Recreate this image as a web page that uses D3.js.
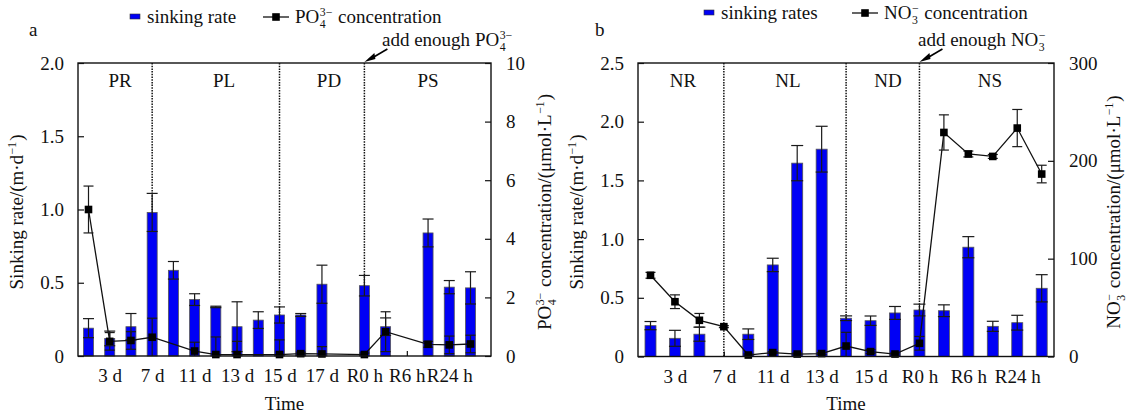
<!DOCTYPE html>
<html>
<head>
<meta charset="utf-8">
<script src="https://cdn.jsdelivr.net/npm/d3@7"></script>
<style>
  body { margin: 0; background: #fff; }
</style>
</head>
<body>
<svg id="chart" width="1129" height="417"></svg>
<script>

// panel a: PO4 experiment, 19 sampling slots
const A_LABELS = ["", "3 d", "", "7 d", "", "11 d", "", "13 d", "", "15 d", "", "17 d", "", "R0 h", "", "R6 h", "", "R24 h", ""];
const A_RATE = [0.19, 0.12, 0.20, 0.98, 0.585, 0.385, 0.335, 0.20, 0.245, 0.28, 0.28, 0.49, null, 0.48, 0.20, null, 0.84, 0.47, 0.465];
const A_RATE_ERR = [0.065, 0.05, 0.09, 0.13, 0.06, 0.04, 0.005, 0.17, 0.057, 0.055, 0.01, 0.13, null, 0.07, 0.06, null, 0.095, 0.045, 0.11];
const A_CONC = [5.0, 0.5, 0.53, 0.64, null, 0.17, 0.05, 0.05, null, 0.05, 0.08, 0.07, null, 0.05, 0.83, null, 0.4, 0.38, 0.41];
const A_CONC_ERR = [0.8, 0.3, 0.3, 0.65, null, 0.3, 0.6, 0.45, null, 0.5, 0.05, 0.25, null, 0.05, 0.68, null, 0.1, 0.3, 0.3];
const A_PHASES = ["PR", "PL", "PD", "PS"];
const A_DIVIDERS = [3, 9, 13];
const A_LEFT_TICKS = [0, 0.5, 1.0, 1.5, 2.0];
const A_RIGHT_TICKS = [0, 2, 4, 6, 8, 10];

// panel b: NO3 experiment, 17 sampling slots
const B_LABELS = ["", "3 d", "", "7 d", "", "11 d", "", "13 d", "", "15 d", "", "R0 h", "", "R6 h", "", "R24 h", ""];
const B_RATE = [0.263, 0.155, 0.19, null, 0.19, 0.78, 1.647, 1.766, 0.326, 0.305, 0.371, 0.396, 0.39, 0.931, 0.257, 0.288, 0.581];
const B_RATE_ERR = [0.035, 0.068, 0.06, null, 0.045, 0.057, 0.15, 0.195, 0.02, 0.04, 0.055, 0.05, 0.05, 0.09, 0.043, 0.063, 0.116];
const B_CONC = [83, 56, 37, 30.5, 1.5, 4, 2.5, 3, 10.7, 5, 2.5, 13.5, 229, 207, 204.5, 233.5, 186.5];
const B_CONC_ERR = [3, 7, 7, 1, 1, 1, 1, 1, 14, 2, 1, 7, 18, 3, 2, 19, 9];
const B_PHASES = ["NR", "NL", "ND", "NS"];
const B_DIVIDERS = [3, 8, 11];
const B_LEFT_TICKS = [0, 0.5, 1.0, 1.5, 2.0, 2.5];
const B_RIGHT_TICKS = [0, 100, 200, 300];

const FS = 19;
const FONT = '"Liberation Serif", "Times New Roman", serif';
const svg = d3.select("#chart").style("font-family", FONT);

function txt(parent, size) {
	return parent.append("text").style("font-family", FONT).style("white-space", "pre")
		.attr("font-size", size).attr("fill", "#111");
}

// text with stacked sub/superscripts, parts: strings or {sub, sup}
function chem(parent, x, y, parts, size, anchor) {
	const g = parent.append("g");
	let cx = 0;
	parts.forEach(p => {
		if (typeof p === "string") {
			const t = txt(g, size).attr("x", cx).attr("y", 0).text(p);
			cx += t.node().getComputedTextLength();
		} else {
			let w = 0;
			if (p.sup) {
				const t = txt(g, size * 0.62).attr("x", cx + 0.5).attr("y", -size * 0.38).text(p.sup);
				w = Math.max(w, t.node().getComputedTextLength());
			}
			if (p.sub) {
				const t = txt(g, size * 0.62).attr("x", cx + 0.5).attr("y", size * 0.26).text(p.sub);
				w = Math.max(w, t.node().getComputedTextLength());
			}
			cx += w + 1.5;
		}
	});
	const off = anchor === "middle" ? -cx / 2 : (anchor === "end" ? -cx : 0);
	g.attr("transform", `translate(${x + off},${y})`);
	return g;
}

function panel(cfg) {
	const g = svg.append("g");
	const x = d3.scalePoint().domain(d3.range(cfg.labels.length)).range(cfg.xr);
	const y = d3.scaleLinear().domain([0, cfg.leftMax]).range([cfg.bottom, cfg.top]);
	const y2 = d3.scaleLinear().domain([0, cfg.rightMax]).range([cfg.bottom, cfg.top]);
	const left = cfg.left, right = cfg.right;

	// phase dividers
	g.selectAll(".div").data(cfg.dividers).enter().append("line")
		.attr("x1", d => x(d)).attr("x2", d => x(d))
		.attr("y1", cfg.top).attr("y2", cfg.bottom)
		.attr("stroke", "#111").attr("stroke-width", 1.5).attr("stroke-dasharray", "1.5,1.2");

	// phase labels
	cfg.phases.forEach((d, i) => {
		txt(g, FS).attr("x", cfg.phaseX[i]).attr("y", cfg.top + 24).attr("text-anchor", "middle").text(d);
	});

	// axes
	const ticked = cfg.labels.map((d, i) => i).filter(i => cfg.labels[i] !== "");
	g.append("g").attr("transform", `translate(0,${cfg.bottom})`)
		.call(d3.axisBottom(x).tickValues(ticked).tickFormat(i => cfg.labels[i]).tickSizeInner(-5).tickSizeOuter(0).tickPadding(13))
		.call(a => a.select(".domain").remove());
	g.append("g").attr("transform", `translate(${left},0)`)
		.call(d3.axisLeft(y).tickValues(cfg.leftTicks).tickFormat(d => d === 0 ? "0" : d3.format(".1f")(d)).tickSizeInner(-6).tickSizeOuter(0).tickPadding(14))
		.call(a => a.select(".domain").remove());
	g.append("g").attr("transform", `translate(${right},0)`)
		.call(d3.axisRight(y2).tickValues(cfg.rightTicks).tickFormat(d3.format("d")).tickSizeInner(-6).tickSizeOuter(0).tickPadding(15))
		.call(a => a.select(".domain").remove());
	g.selectAll(".tick text").attr("font-size", FS).style("font-family", FONT).attr("fill", "#111");
	g.selectAll(".tick line").attr("stroke", "#111").attr("stroke-width", 1.2);

	// bars
	const bars = cfg.rate.map((v, i) => ({ i, v, e: cfg.rateErr[i] })).filter(d => d.v !== null);
	const bw = cfg.barW;
	g.selectAll(".bar").data(bars).enter().append("rect")
		.attr("x", d => x(d.i) - bw / 2).attr("width", bw)
		.attr("y", d => y(d.v)).attr("height", d => y(0) - y(d.v))
		.attr("fill", "#0000f5").attr("stroke", "#555").attr("stroke-width", 0.8);

	function errBars(data, sc, cap) {
		const eg = g.append("g").attr("stroke", "#1a1a1a").attr("stroke-width", 1.2);
		data.forEach(d => {
			const cx = x(d.i);
			eg.append("line").attr("x1", cx).attr("x2", cx).attr("y1", sc(d.v + d.e)).attr("y2", sc(Math.max(0, d.v - d.e)));
			eg.append("line").attr("x1", cx - cap / 2).attr("x2", cx + cap / 2).attr("y1", sc(d.v + d.e)).attr("y2", sc(d.v + d.e));
			if (d.v - d.e > 0) {
				eg.append("line").attr("x1", cx - cap / 2).attr("x2", cx + cap / 2).attr("y1", sc(d.v - d.e)).attr("y2", sc(d.v - d.e));
			}
		});
	}
	errBars(bars, y, bw + 1);

	// concentration line
	const pts = cfg.conc.map((v, i) => ({ i, v, e: cfg.concErr[i] })).filter(d => d.v !== null);
	g.append("path").datum(pts)
		.attr("d", d3.line().x(d => x(d.i)).y(d => y2(d.v)))
		.attr("fill", "none").attr("stroke", "#111").attr("stroke-width", 1.3);
	errBars(pts, y2, 10);
	g.selectAll(".pt").data(pts).enter().append("rect")
		.attr("x", d => x(d.i) - 3.8).attr("y", d => y2(d.v) - 3.8)
		.attr("width", 7.6).attr("height", 7.6).attr("fill", "#000");

	// frame
	g.append("rect").attr("x", left).attr("y", cfg.top)
		.attr("width", right - left).attr("height", cfg.bottom - cfg.top)
		.attr("fill", "none").attr("stroke", "#111").attr("stroke-width", 1.4);

	// panel letter
	txt(g, FS).attr("x", cfg.letterX).attr("y", 36).text(cfg.letter);

	// axis titles
	txt(g, FS).attr("x", (left + right) / 2).attr("y", 410).attr("text-anchor", "middle").text("Time");
	const lt = g.append("g").attr("transform", `translate(${cfg.leftTitleX},212) rotate(-90)`);
	chem(lt, 0, 0, ["Sinking rate/(m\u00b7d", { sup: "\u22121" }, ")"], FS, "middle");
	const rt = g.append("g").attr("transform", `translate(${cfg.rightTitleX},212) rotate(-90)`);
	chem(rt, 0, 0, cfg.ion.concat([" concentration/(\u03bcmol\u00b7L", { sup: "\u22121" }, ")"]), FS, "middle");

	// legend
	const lg = cfg.legend;
	g.append("rect").attr("x", lg.boxX).attr("y", lg.y - 3).attr("width", 10).attr("height", 5)
		.attr("fill", "#0000f5").attr("stroke", "#333").attr("stroke-width", 0.6);
	txt(g, FS).attr("x", lg.boxX + 17).attr("y", lg.y + 6).text(lg.barText);
	g.append("line").attr("x1", lg.lineX).attr("x2", lg.lineX + 26).attr("y1", lg.y).attr("y2", lg.y)
		.attr("stroke", "#111").attr("stroke-width", 1.3);
	g.append("rect").attr("x", lg.lineX + 13 - 3.8).attr("y", lg.y - 3.8).attr("width", 7.6).attr("height", 7.6).attr("fill", "#000");
	chem(g, lg.lineX + 32, lg.y + 6, cfg.ion.concat([" concentration"]), FS, "start");

	// annotation with arrow
	const an = cfg.note;
	chem(g, an.x, 46, ["add enough "].concat(cfg.ion), FS, "start");
	const ax = x(cfg.dividers[2]);
	g.append("line").attr("x1", ax + 23).attr("y1", 49).attr("x2", ax + 6).attr("y2", 59)
		.attr("stroke", "#000").attr("stroke-width", 1.6);
	g.append("path")
		.attr("d", `M${ax},${cfg.top - 1} l${10},-9 l${1},6 z`)
		.attr("fill", "#000");
}

panel({
	labels: A_LABELS, rate: A_RATE, rateErr: A_RATE_ERR, conc: A_CONC, concErr: A_CONC_ERR,
	phases: A_PHASES, phaseX: [120, 224, 329, 428], dividers: A_DIVIDERS,
	leftMax: 2, rightMax: 10, leftTicks: A_LEFT_TICKS, rightTicks: A_RIGHT_TICKS,
	xr: [88.5, 470.5], left: 78, right: 491, top: 63, bottom: 356, barW: 10,
	letter: "a", letterX: 29, leftTitleX: 23, rightTitleX: 551,
	ion: ["PO", { sub: "4", sup: "3\u2212" }],
	legend: { boxX: 130, lineX: 263, y: 17, barText: "sinking rate" },
	note: { x: 382 }
});

panel({
	labels: B_LABELS, rate: B_RATE, rateErr: B_RATE_ERR, conc: B_CONC, concErr: B_CONC_ERR,
	phases: B_PHASES, phaseX: [683, 788, 888, 990], dividers: B_DIVIDERS,
	leftMax: 2.5, rightMax: 300, leftTicks: B_LEFT_TICKS, rightTicks: B_RIGHT_TICKS,
	xr: [650.5, 1041.7], left: 638, right: 1054, top: 63, bottom: 356.5, barW: 11,
	letter: "b", letterX: 595, leftTitleX: 583, rightTitleX: 1120,
	ion: ["NO", { sub: "3", sup: "\u2212" }],
	legend: { boxX: 704, lineX: 852, y: 13, barText: "sinking rates" },
	note: { x: 918 }
});

</script>
</body>
</html>
